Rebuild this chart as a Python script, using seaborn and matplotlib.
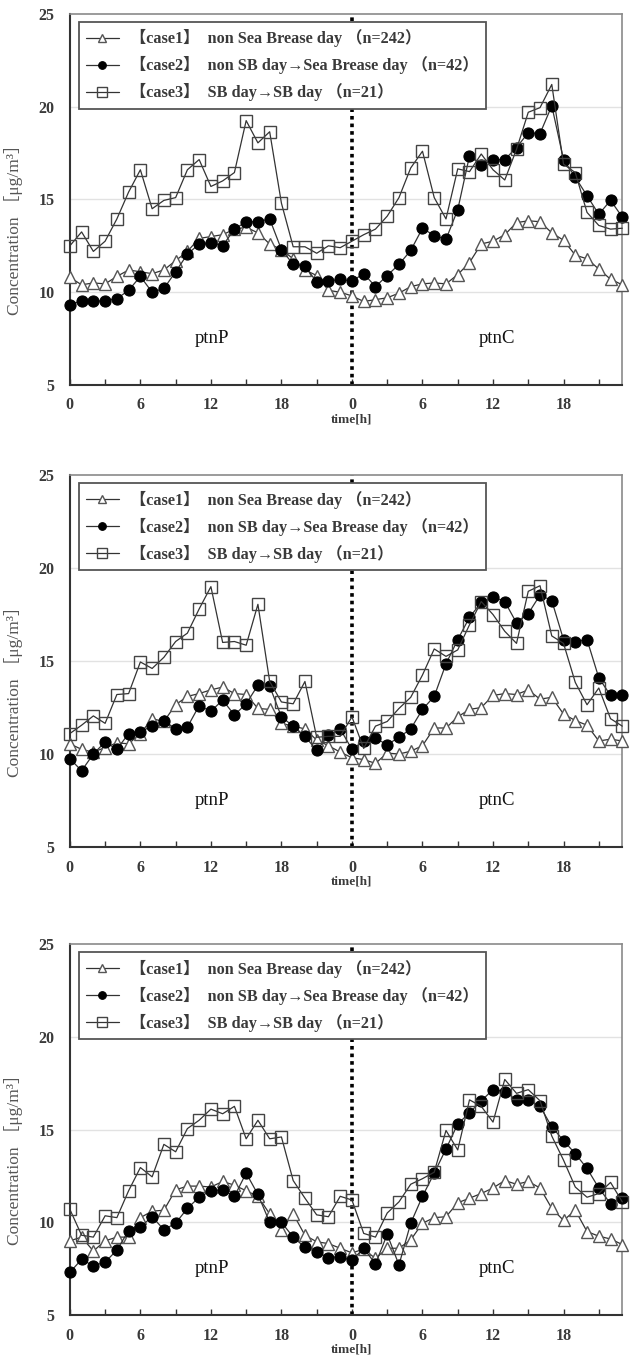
import numpy as np
import pandas as pd
import matplotlib
matplotlib.use("Agg")
import matplotlib.pyplot as plt
from matplotlib.lines import Line2D
import seaborn as sns

sns.set_theme(style="white")
plt.rcParams['font.family'] = ['Liberation Serif', 'Noto Sans CJK JP', 'DejaVu Sans']

hours = np.arange(48)
xtick_pos = [0, 6, 12, 18, 24, 30, 36, 42]
xtick_labels = ["0", "6", "12", "18", "0", "6", "12", "18"]
yticks = [5, 10, 15, 20, 25]

case_labels = ["【case1】  non Sea Brease day （n=242）",
               "【case2】  non SB day→Sea Brease day （n=42）",
               "【case3】  SB day→SB day （n=21）"]
period_labels = ["ptnP", "ptnC"]

p1_case1 = [10.8,10.4,10.5,10.45,10.85,11.2,11.1,11.0,11.2,11.7,12.2,12.9,13.0,13.1,13.4,13.5,13.2,12.6,12.3,11.8,11.2,10.9,10.1,10.0,
            9.8,9.5,9.6,9.7,9.95,10.3,10.45,10.5,10.45,10.95,11.6,12.6,12.75,13.1,13.75,13.85,13.8,13.2,12.8,12.0,11.8,11.25,10.7,10.4]
p1_case2 = [9.3,9.55,9.5,9.55,9.65,10.1,10.85,10.0,10.2,11.1,12.05,12.6,12.65,12.5,13.4,13.8,13.8,13.95,12.3,11.5,11.4,10.55,10.6,10.7,
            10.6,11.0,10.3,10.9,11.5,12.25,13.45,13.05,12.85,14.45,17.35,16.85,17.15,17.15,17.8,18.6,18.55,20.05,17.15,16.2,15.2,14.2,14.95,14.05]
p1_case3 = [12.5,13.25,12.2,12.75,13.95,15.4,16.6,14.5,14.95,15.1,16.6,17.15,15.7,16.0,16.45,19.25,18.05,18.65,14.8,12.45,12.45,12.1,12.5,12.4,
            12.75,13.1,13.4,14.1,15.1,16.7,17.6,15.1,13.95,16.65,16.5,17.45,16.6,16.05,17.7,19.7,19.95,21.2,16.9,16.45,14.3,13.6,13.4,13.45]

p2_case1 = [10.55,10.25,10.1,10.35,10.6,10.55,11.1,11.9,11.75,12.65,13.1,13.25,13.45,13.6,13.25,13.2,12.45,12.4,11.65,11.5,11.35,10.75,10.45,10.1,
            9.8,9.7,9.5,10.05,10.0,10.15,10.45,11.4,11.4,12.0,12.4,12.5,13.15,13.25,13.2,13.45,12.95,13.05,12.15,11.8,11.55,10.7,10.8,10.7]
p2_case2 = [9.75,9.1,10.0,10.65,10.25,11.1,11.2,11.5,11.8,11.35,11.45,12.6,12.3,12.9,12.1,12.7,13.7,13.65,12.0,11.5,10.95,10.2,11.0,11.35,
            10.25,10.7,10.85,10.5,10.9,11.35,12.4,13.1,14.85,16.15,17.35,18.15,18.45,18.2,17.05,17.55,18.55,18.25,16.15,16.05,16.15,14.1,13.15,13.2]
p2_case3 = [11.1,11.55,12.05,11.65,13.2,13.25,14.95,14.6,15.2,16.05,16.5,17.8,19.0,16.0,16.05,15.85,18.05,13.9,12.8,12.7,13.9,10.9,10.95,10.95,
            12.0,10.3,11.5,11.75,12.45,13.05,14.25,15.65,15.25,15.6,16.95,18.2,17.5,16.6,15.95,18.75,19.05,16.35,15.95,13.85,12.65,13.55,11.9,11.5]

p3_case1 = [9.0,9.2,8.45,9.0,9.2,9.2,10.25,10.6,10.65,11.75,11.95,11.95,11.9,12.2,12.0,11.7,11.4,10.45,9.6,10.45,9.3,8.95,8.85,8.6,
            8.35,8.55,8.05,8.6,8.6,9.05,9.95,10.25,10.3,11.05,11.3,11.55,11.85,12.25,12.05,12.2,11.85,10.75,10.1,10.65,9.5,9.25,9.1,8.8]
p3_case2 = [7.3,8.0,7.65,7.85,8.5,9.55,9.75,10.3,9.6,9.95,10.75,11.35,11.7,11.75,11.4,12.65,11.5,10.0,10.0,9.2,8.65,8.4,8.1,8.15,
            7.95,8.6,7.75,9.35,7.7,9.95,11.4,12.65,13.95,15.3,15.9,16.55,17.15,17.05,16.6,16.6,16.25,15.15,14.4,13.7,12.9,11.85,11.0,11.3]
p3_case3 = [10.7,9.3,9.2,10.35,10.25,11.7,12.95,12.45,14.2,13.8,15.05,15.5,16.1,15.85,16.25,14.5,15.5,14.5,14.6,12.25,11.3,10.4,10.3,11.4,
            11.2,9.4,9.2,10.5,11.1,12.05,12.35,12.7,14.95,13.9,16.6,16.25,15.4,17.7,16.95,17.15,16.55,14.65,13.35,11.9,11.35,11.55,12.15,11.1]

panels = [(p1_case1, p1_case2, p1_case3),
          (p2_case1, p2_case2, p2_case3),
          (p3_case1, p3_case2, p3_case3)]

styles = [dict(marker='^', markersize=8.5, markerfacecolor='white', markeredgecolor='#555555', markeredgewidth=1.0),
          dict(marker='o', markersize=8, markerfacecolor='black', markeredgecolor='black', markeredgewidth=0.8),
          dict(marker='s', markersize=9, markerfacecolor='none', markeredgecolor='#444444', markeredgewidth=1.0)]
leg_sizes = [6, 5.5, 6.5]

fig = plt.figure(figsize=(6.35, 13.55), dpi=100)
boxes = [(0.7159, 0.9897), (0.3749, 0.6494), (0.0295, 0.3033)]
txt_col = '#3a3a3a'

for (bot, top), series in zip(boxes, panels):
    ax = fig.add_axes([0.110, bot, 0.870, top - bot])
    for yv in [10, 15, 20]:
        ax.axhline(yv, color='#e2e2e2', lw=1.0, zorder=0)
    ax.plot([24, 24], [5, 25], color='black', lw=2.6, linestyle=(0, (1, 1.1)), zorder=1)
    df = pd.DataFrame({'hour': np.concatenate([hours] * 3),
                       'value': np.concatenate(series),
                       'case': np.repeat(case_labels, 48)})
    for lab, st in zip(case_labels, styles):
        sub = df[df['case'] == lab]
        sns.lineplot(data=sub, x='hour', y='value', ax=ax, color='#333333', lw=0.9,
                     clip_on=False, zorder=3, legend=False, **st)
    ax.set_xlim(0, 47)
    ax.set_ylim(5, 25)
    ax.set_xticks(xtick_pos)
    ax.set_xticklabels(xtick_labels)
    ax.set_xticks(np.arange(3, 47, 6), minor=True)
    ax.set_yticks(yticks)
    ax.tick_params(axis='x', which='both', direction='in', length=4, width=1.0, color='#333333',
                   pad=9, labelsize=11.5, labelcolor=txt_col, bottom=True)
    ax.tick_params(axis='y', length=0, pad=11, labelsize=11.5, labelcolor=txt_col)
    for lbl in ax.get_xticklabels() + ax.get_yticklabels():
        lbl.set_fontweight('bold')
    for s in ['left', 'bottom']:
        ax.spines[s].set_color('#333333')
        ax.spines[s].set_linewidth(1.5)
    for s in ['top', 'right']:
        ax.spines[s].set_color('#8a8a8a')
        ax.spines[s].set_linewidth(1.2)
    ax.set_xlabel('')
    ax.set_ylabel('Concentration ［μg/m³］', fontsize=12.5, color='#555555')
    ax.yaxis.set_label_coords(-0.085, 0.43)
    ax.text(12.1, 7.5, period_labels[0], fontsize=13.5, color='#111111', ha='center', va='center')
    ax.text(36.3, 7.5, period_labels[1], fontsize=13.5, color='#111111', ha='center', va='center')
    ax.text(24, -0.077, 'time[h]', transform=ax.get_xaxis_transform(), fontsize=9.5,
            fontweight='bold', color=txt_col, ha='center', va='top')
    handles = [Line2D([0], [0], color='#333333', lw=0.9, **dict(st, markersize=ms))
               for st, ms in zip(styles, leg_sizes)]
    leg = ax.legend(handles, case_labels, loc='upper left', bbox_to_anchor=(0.016, 0.978),
                    borderaxespad=0, frameon=True, fancybox=False, edgecolor='#555555',
                    facecolor='white', framealpha=1,
                    handlelength=2.0, handletextpad=0.7, labelspacing=0.55, borderpad=0.45,
                    prop={'weight': 'bold', 'size': 11.7})
    leg.get_frame().set_linewidth(1.3)
    leg.set_zorder(10)
    for t in leg.get_texts():
        t.set_color(txt_col)

fig.savefig('out.png', dpi=100)
